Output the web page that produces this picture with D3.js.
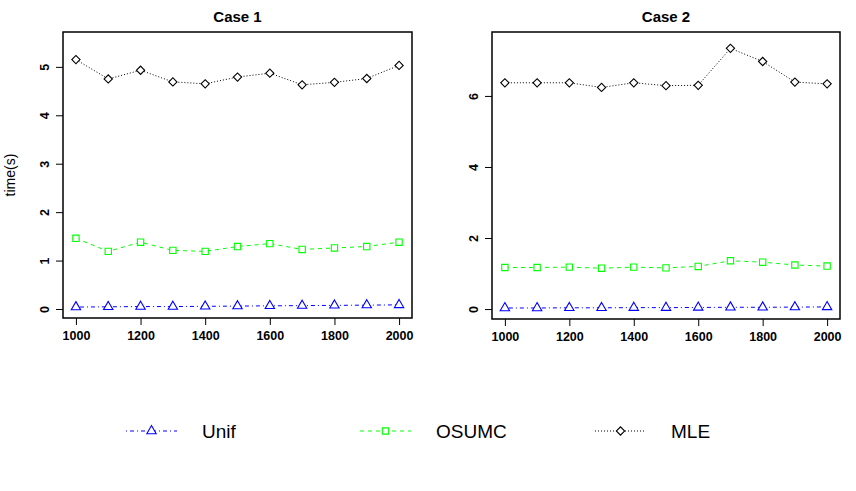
<!DOCTYPE html>
<html>
<head>
<meta charset="utf-8">
<script src="https://d3js.org/d3.v7.min.js"></script>
<style>
  body { margin: 0; background: #fff; }
  text { font-family: "Liberation Sans", Arial, sans-serif; }
</style>
</head>
<body>
<script>
"use strict";

var sizes = [1000, 1100, 1200, 1300, 1400, 1500, 1600, 1700, 1800, 1900, 2000];
var xTicks = [1000, 1200, 1400, 1600, 1800, 2000];

var seriesNames = ["Unif", "OSUMC", "MLE"];

var case1Unif  = [0.04, 0.045, 0.05, 0.05, 0.055, 0.06, 0.065, 0.07, 0.075, 0.08, 0.085];
var case1Osumc = [1.46, 1.19, 1.38, 1.21, 1.19, 1.29, 1.35, 1.23, 1.26, 1.29, 1.38];
var case1Mle   = [5.15, 4.75, 4.93, 4.69, 4.65, 4.79, 4.87, 4.63, 4.68, 4.76, 5.03];

var case2Unif  = [0.03, 0.03, 0.035, 0.035, 0.04, 0.04, 0.045, 0.05, 0.05, 0.055, 0.06];
var case2Osumc = [1.17, 1.17, 1.18, 1.15, 1.18, 1.16, 1.20, 1.36, 1.32, 1.24, 1.21];
var case2Mle   = [6.37, 6.37, 6.37, 6.24, 6.37, 6.29, 6.30, 7.34, 6.97, 6.39, 6.34];

var case1YTicks = [0, 1, 2, 3, 4, 5];
var case2YTicks = [0, 2, 4, 6];

var width = 856, height = 491;

var styles = {
  Unif:  { color: "#0000ff", dash: "1,3,4,3", symbol: "triangle" },
  OSUMC: { color: "#00ff00", dash: "4,4",     symbol: "square" },
  MLE:   { color: "#000000", dash: "1,2",     symbol: "diamond" }
};

var svg = d3.select("body").append("svg")
  .attr("width", width)
  .attr("height", height);

function symbolPath(kind) {
  if (kind === "triangle") return d3.symbol().type(d3.symbolTriangle).size(38)();
  if (kind === "square") return d3.symbol().type(d3.symbolSquare).size(40)();
  return d3.symbol().type(d3.symbolSquare).size(34)();
}

function drawPanel(opts) {
  var x = d3.scaleLinear().domain([960, 2040]).range([opts.left, opts.right]);
  var y = d3.scaleLinear().domain(opts.yDomain).range([opts.bottom, opts.top]);

  var g = svg.append("g");

  // title
  g.append("text")
    .attr("x", (opts.left + opts.right) / 2)
    .attr("y", 22)
    .attr("text-anchor", "middle")
    .style("font-size", "15px")
    .style("font-weight", "bold")
    .text(opts.title);

  // x axis
  var xAxis = g.append("g")
    .attr("transform", "translate(0," + opts.bottom + ")")
    .call(d3.axisBottom(x).tickValues(xTicks).tickSize(7).tickPadding(6).tickFormat(d3.format("d")));
  xAxis.select(".domain").remove();
  xAxis.selectAll("line").attr("stroke", "#000");
  xAxis.selectAll("text")
    .style("font-size", "12.5px")
    .style("font-weight", "bold")
    .style("font-family", "'Liberation Sans', Arial, sans-serif")
    .attr("fill", "#000");

  // y axis
  var yAxis = g.append("g")
    .attr("transform", "translate(" + opts.left + ",0)")
    .call(d3.axisLeft(y).tickValues(opts.yTicks).tickSize(7).tickPadding(0).tickFormat(d3.format("d")));
  yAxis.select(".domain").remove();
  yAxis.selectAll("line").attr("stroke", "#000");
  yAxis.selectAll("text")
    .attr("x", null).attr("dy", null)
    .attr("text-anchor", "middle")
    .attr("transform", "translate(-19,0) rotate(-90) translate(0,4.5)")
    .style("font-size", "12.5px")
    .style("font-weight", "bold")
    .style("font-family", "'Liberation Sans', Arial, sans-serif")
    .attr("fill", "#000");

  // series
  opts.series.forEach(function (s) {
    var st = styles[s.name];
    var pts = sizes.map(function (d, i) { return [x(d), y(s.values[i])]; });
    g.append("path")
      .attr("d", d3.line()(pts))
      .attr("fill", "none")
      .attr("stroke", st.color)
      .attr("stroke-width", 1)
      .attr("stroke-dasharray", st.dash);
    g.selectAll(null).data(pts).enter().append("path")
      .attr("d", symbolPath(st.symbol))
      .attr("transform", function (p) {
        return "translate(" + p[0] + "," + p[1] + ")" + (st.symbol === "diamond" ? " rotate(45)" : "");
      })
      .attr("fill", "#fff")
      .attr("stroke", st.color)
      .attr("stroke-width", 1.1);
  });

  // box
  g.append("rect")
    .attr("x", opts.left).attr("y", opts.top)
    .attr("width", opts.right - opts.left)
    .attr("height", opts.bottom - opts.top)
    .attr("fill", "none")
    .attr("stroke", "#000")
    .attr("stroke-width", 1.5);
}

drawPanel({
  title: "Case 1", left: 63, right: 412, top: 32, bottom: 318,
  yDomain: [-0.186, 5.72], yTicks: case1YTicks,
  series: [
    { name: "Unif", values: case1Unif },
    { name: "OSUMC", values: case1Osumc },
    { name: "MLE", values: case1Mle }
  ]
});

drawPanel({
  title: "Case 2", left: 492, right: 840, top: 32, bottom: 319,
  yDomain: [-0.28, 7.80], yTicks: case2YTicks,
  series: [
    { name: "Unif", values: case2Unif },
    { name: "OSUMC", values: case2Osumc },
    { name: "MLE", values: case2Mle }
  ]
});

// y label
svg.append("text")
  .attr("transform", "translate(15,175) rotate(-90)")
  .attr("text-anchor", "middle")
  .style("font-size", "14px")
  .text("time(s)");

// legend
var legendX = [126, 360, 595];
var legendY = 431;
seriesNames.forEach(function (name, i) {
  var st = styles[name];
  var lg = svg.append("g").attr("transform", "translate(" + legendX[i] + "," + legendY + ")");
  lg.append("line")
    .attr("x1", 0).attr("x2", 51)
    .attr("stroke", st.color)
    .attr("stroke-width", 1)
    .attr("stroke-dasharray", st.dash);
  lg.append("path")
    .attr("d", symbolPath(st.symbol))
    .attr("transform", "translate(25.5,0)" + (st.symbol === "diamond" ? " rotate(45)" : ""))
    .attr("fill", "#fff")
    .attr("stroke", st.color)
    .attr("stroke-width", 1.1);
  lg.append("text")
    .attr("x", 76)
    .attr("y", 7)
    .style("font-size", "19px")
    .text(name);
});
</script>
</body>
</html>
